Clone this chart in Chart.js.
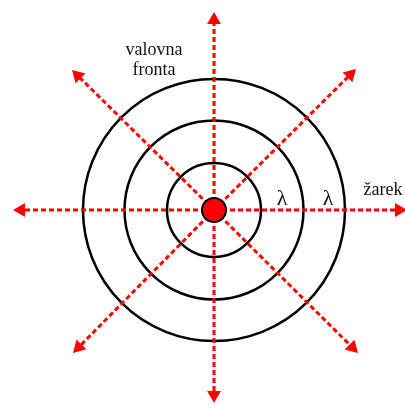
<!DOCTYPE html>
<html>
<head>
<meta charset="utf-8">
<script src="https://cdn.jsdelivr.net/npm/chart.js@4"></script>
<style>
  html, body { margin: 0; padding: 0; background: #fff; }
  canvas { display: block; }
</style>
</head>
<body>
<canvas id="waves" width="405" height="408"></canvas>
<script>
// wave fronts (radius, in pixel-like units around the source)
const frontRadii = [47, 89.5, 131];

// ray tips, measured from the source
const rayTipX = [0, 142, 193, 144, 0, -141, -201, -142];
const rayTipY = [198, 141, 0, -143, -193, -143, 0, 140];

// text labels
const labelText = ['valovna', 'fronta', 'λ', 'λ', 'žarek'];
const labelX = [-60, -60, 68, 114, 169];
const labelY = [155, 135, 5, 5, 15];
const labelSize = [18, 18, 22, 22, 18];

const red = '#ff0000';
const headSize = 8;

const rays = rayTipX.map((tx, i) => {
    const ty = rayTipY[i];
    const len = Math.hypot(tx, ty);
    const ux = tx / len, uy = ty / len;
    const angle = Math.atan2(ty, tx) * 180 / Math.PI;
    return {
        data: [{x: 0, y: 0}, {x: tx - ux * headSize, y: ty - uy * headSize}],
        showLine: true,
        borderColor: red,
        borderWidth: 3,
        borderDash: [5, 3],
        pointRadius: [0, headSize],
        pointStyle: 'triangle',
        rotation: [0, 90 - angle],
        pointBackgroundColor: red,
        pointBorderWidth: 0
    };
});

const fronts = {
    id: 'fronts',
    beforeDatasetsDraw(chart) {
        const {ctx, scales: {x, y}} = chart;
        const cx = x.getPixelForValue(0), cy = y.getPixelForValue(0);
        ctx.save();
        ctx.strokeStyle = '#000';
        ctx.lineWidth = 2.5;
        frontRadii.forEach(r => {
            const pr = x.getPixelForValue(r) - cx;
            ctx.beginPath();
            ctx.arc(cx, cy, pr, 0, Math.PI * 2);
            ctx.stroke();
        });
        ctx.restore();
    },
    afterDatasetsDraw(chart) {
        const {ctx, scales: {x, y}} = chart;
        ctx.save();
        ctx.fillStyle = '#111';
        ctx.textAlign = 'center';
        ctx.textBaseline = 'alphabetic';
        labelText.forEach((t, i) => {
            ctx.font = labelSize[i] + 'px "Liberation Serif", "Times New Roman", serif';
            ctx.fillText(t, x.getPixelForValue(labelX[i]), y.getPixelForValue(labelY[i]));
        });
        ctx.restore();
    }
};

new Chart(document.getElementById('waves'), {
    type: 'scatter',
    data: {
        datasets: [{
            data: [{x: 0, y: 0}],
            pointRadius: 12,
            pointBackgroundColor: red,
            pointBorderColor: '#000',
            pointBorderWidth: 2
        }].concat(rays)
    },
    options: {
        responsive: false,
        animation: false,
        events: [],
        layout: { padding: 0, autoPadding: false },
        plugins: { legend: { display: false }, tooltip: { enabled: false } },
        scales: {
            x: { type: 'linear', display: false, min: -214, max: 191 },
            y: { type: 'linear', display: false, min: -198, max: 210 }
        }
    },
    plugins: [fronts]
});
</script>
</body>
</html>
